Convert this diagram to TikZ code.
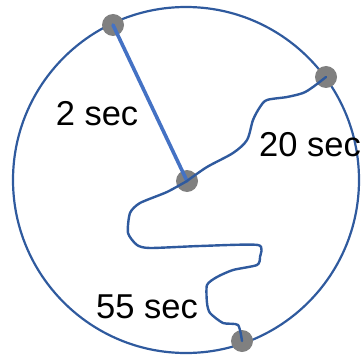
\documentclass[tikz,border=0pt]{standalone}
\usepackage{fontspec}
\setmainfont{Liberation Sans}
\definecolor{ringblue}{HTML}{2F5A9E}
\definecolor{lineblue}{HTML}{4472C4}
\definecolor{dotgray}{HTML}{808080}
\begin{document}
\begin{tikzpicture}[x=1pt,y=-1pt,
  dot/.style={circle,fill=dotgray,inner sep=0pt,minimum size=22pt},
  ring/.style={draw=ringblue,line width=2.2pt},
  wiggle/.style={draw=ringblue,line width=2.4pt,line join=round,line cap=round},
  straightline/.style={draw=lineblue,line width=3.6pt,line cap=round},
  lbl/.style={font=\fontsize{34.5}{37}\selectfont,inner sep=0pt}]
\useasboundingbox (0,0) rectangle (363,358);
\draw[ring] (186,180) circle [radius=173];
\node[dot] (tl) at (113,25) {};
\node[dot] (rt) at (326,77) {};
\node[dot] (ct) at (187,181) {};
\node[dot] (bt) at (242,341) {};
\draw[straightline] (tl.center) -- (ct.center);
\draw[wiggle] (ct.center) plot[smooth,tension=0.5] coordinates {(187,181) (207,167) (233,153) (247,140) (253,120) (260,107) (267,100) (287,97) (303,93) (313,87) (326,77)};
\draw[wiggle] (ct.center) plot[smooth,tension=0.4] coordinates {(187,181) (167,192) (140,203) (130,213) (128,233) (137,245) (150,248) (200,246) (258,245) (260,257) (257,265) (233,270) (217,277) (207,285) (207,303) (210,313) (223,323) (238,325) (242,341)};
\node[lbl] (l2) at (97,114) {2 sec};
\node[lbl,anchor=west] (l20) at (259,145) {20 sec};
\node[lbl] (l55) at (147,307) {55 sec};
\end{tikzpicture}
\end{document}
